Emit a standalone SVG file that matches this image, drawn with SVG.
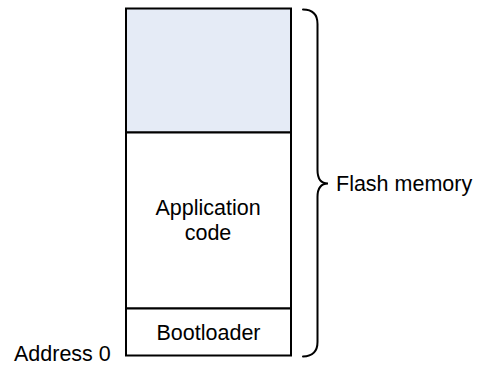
<svg xmlns="http://www.w3.org/2000/svg" width="485" height="366" viewBox="0 0 485 366">
  <style>
    .lbl { font-family: "Liberation Sans", Arial, sans-serif; font-size: 21.5px; fill: #000; }
    .mid { text-anchor: middle; }
    .box { stroke: #000; stroke-width: 2; }
    .brace { fill: none; stroke: #000; stroke-width: 2; stroke-linecap: round; }
  </style>
  <rect width="485" height="366" fill="#fff"/>

  <!-- Flash memory column -->
  <g id="free-space">
    <rect class="box" x="126" y="8.5" width="165" height="124" fill="#E5EBF6"/>
  </g>
  <g id="application">
    <rect class="box" x="126" y="132.5" width="165" height="176" fill="#fff"/>
    <text class="lbl mid" x="208" y="215">Application</text>
    <text class="lbl mid" x="208" y="240">code</text>
  </g>
  <g id="bootloader">
    <rect class="box" x="126" y="308.5" width="165" height="47" fill="#fff"/>
    <text class="lbl mid" x="208.5" y="340">Bootloader</text>
  </g>

  <g id="address0">
    <text class="lbl" x="14" y="361">Address 0</text>
  </g>

  <!-- brace spanning the whole flash -->
  <g id="connectors">
    <path class="brace" d="M303,9.5 Q317.5,9.5 317.5,24 L317.5,170 Q317.5,183.5 328,183.5 Q317.5,183.5 317.5,197 L317.5,342 Q317.5,356 303,356.5"/>
  </g>
  <g id="flash-memory">
    <text class="lbl" x="336" y="191">Flash memory</text>
  </g>
</svg>
